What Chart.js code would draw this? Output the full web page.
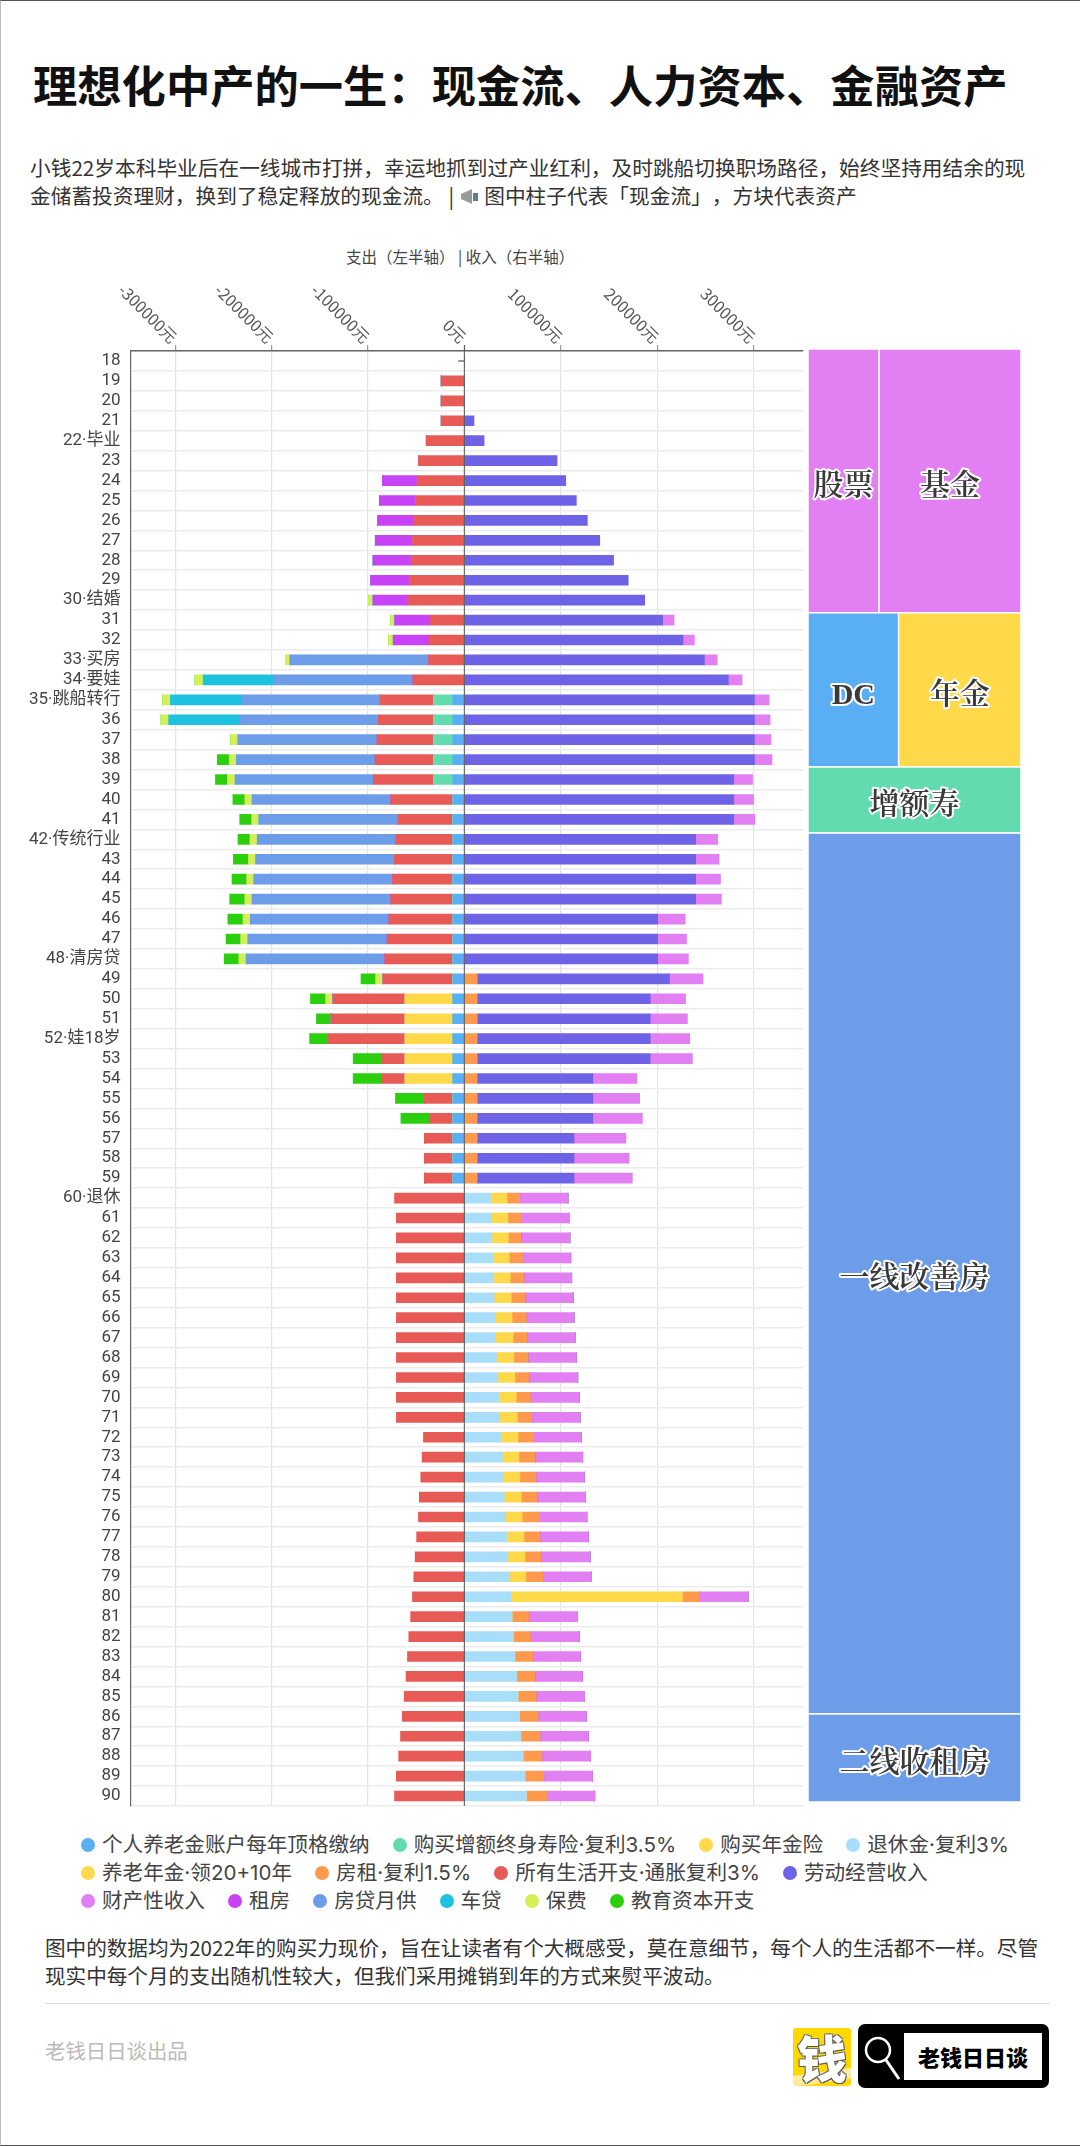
<!DOCTYPE html>
<html lang="zh">
<head>
<meta charset="utf-8">
<title>理想化中产的一生</title>
<script src="https://cdn.jsdelivr.net/npm/chart.js@4/dist/chart.umd.min.js"></script>
<style>
html, body { margin: 0; padding: 0; background: #fff; }
body { position: relative; width: 1080px; height: 2146px; overflow: hidden; font-family: "Noto Sans CJK SC", sans-serif; color: #333; text-spacing-trim: space-all; }
.frame { position: absolute; left: 0; top: 0; width: 1079px; height: 2144px; border-left: 1px solid #bbb; border-top: 1px solid #555; border-bottom: 1px solid #555; box-sizing: content-box; }
.abs { position: absolute; white-space: nowrap; }
#title { left: 33px; top: 52px; font-size: 44.3px; line-height: 64px; font-weight: 700; color: #111; }
#sub { left: 30px; top: 154px; font-size: 20.7px; line-height: 27.5px; color: #333; }
#sub svg { vertical-align: -3px; }
#axisTitle { left: 346px; top: 246px; font-size: 15.5px; line-height: 20px; color: #444; }
#pyramid { position: absolute; left: 0; top: 240px; }
#blocks { position: absolute; left: 808px; top: 349px; }
#legend { position: absolute; left: 81px; top: 1831px; width: 965px; display: flex; flex-wrap: wrap; column-gap: 23px; font-family: Inter, "Noto Sans CJK SC", sans-serif; font-size: 20.6px; line-height: 28px; color: #444; }
#legend span.item { display: flex; align-items: center; white-space: nowrap; }
#legend i { display: inline-block; width: 14px; height: 14px; border-radius: 50%; margin-right: 7px; }
#note { left: 45px; top: 1934px; font-size: 20.6px; line-height: 27.5px; color: #333; }
#rule { position: absolute; left: 45px; top: 2003px; width: 1005px; height: 1px; background: #ddd; }
#credit { left: 45px; top: 2035px; font-size: 20.4px; line-height: 30px; color: #bbb; }
#coin { position: absolute; left: 793px; top: 2028px; width: 58px; height: 58px; border-radius: 3px; background: linear-gradient(172deg, #ffd800 72%, #fff0a0 73%, #ffe89a 88%, #ffd800 90%); color: #fff; font-size: 50px; line-height: 56px; font-weight: 900; text-align: center; text-shadow: 1px 1px 0 #555, -1px 1px 0 #666, 1px -1px 0 #777, -1px -1px 0 #777; }
#badge { position: absolute; left: 858px; top: 2024px; width: 191px; height: 64px; border-radius: 7px; background: #000; }
#badge div { position: absolute; left: 46px; top: 9px; width: 138px; height: 47px; background: #fff; color: #000; font-size: 22px; line-height: 47px; font-weight: 900; text-align: center; }
#badge svg { position: absolute; left: 5px; top: 11px; }
</style>
</head>
<body>
<div class="frame"></div>
<div class="abs" id="title">理想化中产的一生：现金流、人力资本、金融资产</div>
<div class="abs" id="sub">小钱22岁本科毕业后在一线城市打拼，幸运地抓到过产业红利，及时跳船切换职场路径，始终坚持用结余的现<br>金储蓄投资理财，换到了稳定释放的现金流。 | <svg width="21" height="20" viewBox="0 0 21 20"><path d="M2 7 L13 2 L13 17 L2 12 Z" fill="#9a9a9a"/><rect x="14" y="6" width="5" height="8" fill="#5f7f95"/></svg> 图中柱子代表「现金流」，方块代表资产</div>
<div class="abs" id="axisTitle">支出（左半轴） | 收入（右半轴）</div>

<canvas id="pyramid" width="806" height="1572"></canvas>
<canvas id="blocks" width="213" height="1453"></canvas>

<div id="legend"></div>
<div class="abs" id="note">图中的数据均为2022年的购买力现价，旨在让读者有个大概感受，莫在意细节，每个人的生活都不一样。尽管<br>现实中每个月的支出随机性较大，但我们采用摊销到年的方式来熨平波动。</div>
<div id="rule"></div>
<div class="abs" id="credit">老钱日日谈出品</div>
<div id="coin">钱</div>
<div id="badge">
  <svg width="38" height="46" viewBox="0 0 38 46"><circle cx="15" cy="15" r="12" fill="none" stroke="#fff" stroke-width="2.5"/><line x1="23" y1="25" x2="36" y2="44" stroke="#fff" stroke-width="3"/></svg>
  <div>老钱日日谈</div>
</div>

<script>
var ages = ["18","19","20","21","22·毕业","23","24","25","26","27","28","29",
	"30·结婚","31","32","33·买房","34·要娃","35·跳船转行","36","37","38","39",
	"40","41","42·传统行业","43","44","45","46","47","48·清房贷","49",
	"50","51","52·娃18岁","53","54","55","56","57","58","59",
	"60·退休","61","62","63","64","65","66","67","68","69",
	"70","71","72","73","74","75","76","77","78","79",
	"80","81","82","83","84","85","86","87","88","89","90"];

var tickValues = [-300000,-200000,-100000,0,100000,200000,300000];

// each series below is read off the picture, one row per decade of age (18-29, 30-39 ... 80-90)
// spending is kept as positive numbers and flipped to the left half when building datasets
var pensionAccount = [0,0,0,0,0,0,0,0,0,0,0,0,
	0,0,0,0,0,12000,12000,12000,12000,12000,
	12000,12000,12000,12000,12000,12000,12000,12000,12000,12000,
	12000,12000,12000,12000,12000,12000,12000,12000,12000,12000,
	0,0,0,0,0,0,0,0,0,0,
	0,0,0,0,0,0,0,0,0,0,
	0,0,0,0,0,0,0,0,0,0,0];

var wholeLife = [0,0,0,0,0,0,0,0,0,0,0,0,
	0,0,0,0,0,19500,19500,19500,19500,19500,
	0,0,0,0,0,0,0,0,0,0,
	0,0,0,0,0,0,0,0,0,0,
	0,0,0,0,0,0,0,0,0,0,
	0,0,0,0,0,0,0,0,0,0,
	0,0,0,0,0,0,0,0,0,0,0];

var annuityPremium = [0,0,0,0,0,0,0,0,0,0,0,0,
	0,0,0,0,0,0,0,0,0,0,
	0,0,0,0,0,0,0,0,0,0,
	49500,49500,49500,49500,49500,0,0,0,0,0,
	0,0,0,0,0,0,0,0,0,0,
	0,0,0,0,0,0,0,0,0,0,
	0,0,0,0,0,0,0,0,0,0,0];

var retirementPay = [0,0,0,0,0,0,0,0,0,0,0,0,
	0,0,0,0,0,0,0,0,0,0,
	0,0,0,0,0,0,0,0,0,0,
	0,0,0,0,0,0,0,0,0,0,
	27100,27600,28600,29500,30500,31000,31900,32400,33300,34800,
	35700,36700,38100,39500,40500,41400,42900,43800,45200,46700,
	48100,49500,51000,52400,54300,55700,57100,58600,61000,62900,64300];

var annuityPayout = [0,0,0,0,0,0,0,0,0,0,0,0,
	0,0,0,0,0,0,0,0,0,0,
	0,0,0,0,0,0,0,0,0,0,
	0,0,0,0,0,0,0,0,0,0,
	17100,17600,17100,17100,17100,17600,17600,18100,18100,17600,
	18100,18100,17600,17100,17100,17600,17100,18100,17600,17100,
	178100,0,0,0,0,0,0,0,0,0,0];

var rentIncome = [0,0,0,0,0,0,0,0,0,0,0,0,
	0,0,0,0,0,0,0,0,0,0,
	0,0,0,0,0,0,0,0,0,13300,
	13300,13300,13300,13300,13300,13300,13300,13300,13300,13300,
	13300,13300,13300,13800,14300,14300,14800,14800,14800,14800,
	14800,15200,16200,16700,16700,16700,17100,16700,17100,17600,
	17600,17600,17600,18600,19000,19000,19500,20000,19500,19500,21000];

var living = [0,24000,24000,24000,39500,47600,49000,50500,52000,53800,55200,56700,
	59000,36000,36700,37100,53300,55700,57600,59000,61000,62900,
	64300,56700,59000,60500,62400,64300,66200,68100,70500,72400,
	74800,76700,79500,24300,24300,29500,24300,29500,29500,29500,
	72400,70500,70500,70500,70500,70500,70500,70500,70500,70500,
	70500,70500,42400,43800,45200,46700,47600,49500,51000,52400,
	53800,55700,57600,59000,60500,62400,64300,66200,68100,70500,72400];

var laborIncome = [0,0,0,10000,20500,96200,105200,116200,127600,140500,154800,170000,
	187100,205700,226700,249000,273800,301000,301000,301000,301000,279500,
	279500,279500,240000,240000,240000,240000,200500,200500,200500,199500,
	179500,179500,179500,179500,120000,120000,120000,100500,100500,100500,
	0,0,0,0,0,0,0,0,0,0,
	0,0,0,0,0,0,0,0,0,0,
	0,0,0,0,0,0,0,0,0,0,0];

var propertyIncome = [0,0,0,0,0,0,0,0,0,0,0,0,
	0,11900,11900,13300,14300,15200,16200,17100,18100,19500,
	20500,21900,22900,24300,25700,26700,28600,30000,31900,34800,
	36700,38600,41000,43800,45700,48600,51400,53800,57100,60500,
	50000,50000,50500,50000,49500,50000,49500,50000,50000,50500,
	50500,50000,49500,49500,50000,50000,50000,50000,50500,50500,
	50500,50500,50500,49500,49000,50000,50000,50000,50500,50500,50000];

var rentPaid = [0,0,0,0,0,0,36000,37600,38000,38600,39500,40500,
	35700,36200,37100,0,0,0,0,0,0,0,
	0,0,0,0,0,0,0,0,0,0,
	0,0,0,0,0,0,0,0,0,0,
	0,0,0,0,0,0,0,0,0,0,
	0,0,0,0,0,0,0,0,0,0,
	0,0,0,0,0,0,0,0,0,0,0];

var mortgage = [0,0,0,0,0,0,0,0,0,0,0,0,
	0,0,0,143800,144700,143400,144300,144300,143800,143300,
	143800,144300,143800,143800,143800,143800,143800,144300,143800,0,
	0,0,0,0,0,0,0,0,0,0,
	0,0,0,0,0,0,0,0,0,0,
	0,0,0,0,0,0,0,0,0,0,
	0,0,0,0,0,0,0,0,0,0,0];

var carLoan = [0,0,0,0,0,0,0,0,0,0,0,0,
	0,0,0,0,72900,74300,73300,0,0,0,
	0,0,0,0,0,0,0,0,0,0,
	0,0,0,0,0,0,0,0,0,0,
	0,0,0,0,0,0,0,0,0,0,
	0,0,0,0,0,0,0,0,0,0,
	0,0,0,0,0,0,0,0,0,0,0];

var insurance = [0,0,0,0,0,0,0,0,0,0,0,0,
	4800,4300,4800,4800,8600,8100,8100,7600,7600,8100,
	7600,7600,7600,7600,7600,7600,7600,7600,7600,7600,
	7600,0,0,0,0,0,0,0,0,0,
	0,0,0,0,0,0,0,0,0,0,
	0,0,0,0,0,0,0,0,0,0,
	0,0,0,0,0,0,0,0,0,0,0];

var education = [0,0,0,0,0,0,0,0,0,0,0,0,
	0,0,0,0,0,0,0,0,12400,12400,
	12400,12400,12400,15700,15200,15700,15700,15200,15200,15200,
	15700,15200,19500,29500,29500,30000,29500,0,0,0,
	0,0,0,0,0,0,0,0,0,0,
	0,0,0,0,0,0,0,0,0,0,
	0,0,0,0,0,0,0,0,0,0,0];

// the thin grey dash in the first row, only age 18 has it
var firstRowDash = [6000];

// asset blocks on the right, areas
var assetNames = ["股票","基金","DC","年金","增额寿","一线改善房","二线收租房"];
var assetValues = [18.8,37.5,14,18.9,14.1,188,18.8];
var assetColors = ["#e27ff2","#e27ff2","#5aaef4","#ffd94a","#62dbaf","#6d9ce9","#6d9ce9"];
var assetRows = [[0,1],[2,3],[4],[5],[6]];

function flip(list){
	return list.map(function(v){ return -v; });
}

// same order as the legend, the stack grows outward from zero in this order
var seriesList = [
	{label: "个人养老金账户每年顶格缴纳", color: "#5aaef4", data: flip(pensionAccount)},
	{label: "购买增额终身寿险·复利3.5%", color: "#62dbaf", data: flip(wholeLife)},
	{label: "购买年金险", color: "#ffd94a", data: flip(annuityPremium)},
	{label: "退休金·复利3%", color: "#a8defa", data: retirementPay},
	{label: "养老年金·领20+10年", color: "#ffd94a", data: annuityPayout},
	{label: "房租·复利1.5%", color: "#ff9a4d", data: rentIncome},
	{label: "所有生活开支·通胀复利3%", color: "#e85a56", data: flip(living)},
	{label: "劳动经营收入", color: "#6e63e6", data: laborIncome},
	{label: "财产性收入", color: "#e27ff2", data: propertyIncome},
	{label: "租房", color: "#c843f5", data: flip(rentPaid)},
	{label: "房贷月供", color: "#6d9ce9", data: flip(mortgage)},
	{label: "车贷", color: "#1dc3de", data: flip(carLoan)},
	{label: "保费", color: "#d4ef58", data: flip(insurance)},
	{label: "教育资本开支", color: "#2ccf0e", data: flip(education)}
];

var datasets = [];
for (var i in seriesList) {
	datasets.push({
		label: seriesList[i].label,
		data: seriesList[i].data,
		backgroundColor: seriesList[i].color,
		borderWidth: 0,
		barThickness: 10,
		stack: "flow"
	});
}
datasets.push({label: "", data: flip(firstRowDash), backgroundColor: "#999", borderWidth: 0, barThickness: 1.5, stack: "flow"});

var legendBox = document.getElementById("legend");
seriesList.forEach(function(s){
	var item = document.createElement("span");
	item.className = "item";
	var dot = document.createElement("i");
	dot.style.background = s.color;
	item.appendChild(dot);
	item.appendChild(document.createTextNode(s.label));
	legendBox.appendChild(item);
});

// top axis labels lean the other way than chart.js allows, and the centre line sits over the bars
var axisExtras = {
	id: "axisExtras",
	afterDatasetsDraw: function(chart){
		var ctx = chart.ctx;
		var x = chart.scales.x;
		var area = chart.chartArea;
		var zero = x.getPixelForValue(0);
		ctx.save();
		ctx.strokeStyle = "#555";
		ctx.lineWidth = 1;
		ctx.beginPath();
		ctx.moveTo(zero, area.top - 6);
		ctx.lineTo(zero, area.bottom);
		ctx.stroke();
		ctx.fillStyle = "#555";
		ctx.font = '16px "Noto Sans CJK SC"';
		ctx.textAlign = "right";
		ctx.textBaseline = "middle";
		tickValues.forEach(function(v){
			ctx.save();
			ctx.translate(x.getPixelForValue(v) - 1, area.top - 11);
			ctx.rotate(Math.PI / 4);
			ctx.fillText(v + "元", 0, 0);
			ctx.restore();
		});
		ctx.restore();
	}
};

var pyramid = new Chart(document.getElementById("pyramid"), {
	type: "bar",
	data: {labels: ages, datasets: datasets},
	options: {
		indexAxis: "y",
		responsive: false,
		animation: false,
		layout: {padding: {left: 0, right: 3, top: 0, bottom: 6}},
		plugins: {legend: {display: false}, tooltip: {enabled: false}},
		scales: {
			x: {
				position: "top",
				stacked: true,
				min: -346300,
				max: 351300,
				afterBuildTicks: function(scale){
					scale.ticks = tickValues.map(function(v){ return {value: v}; });
				},
				afterFit: function(scale){ scale.height = 111; },
				ticks: {display: false},
				grid: {color: "#e4e4e4", lineWidth: 1.2, tickLength: 6, tickColor: "#999"},
				border: {color: "#666", width: 1.5}
			},
			y: {
				stacked: true,
				afterFit: function(scale){
					scale.width = 130.5;
					scale.paddingTop = 0;
					scale.paddingBottom = 0;
				},
				ticks: {
					autoSkip: false,
					padding: 10,
					color: "#444",
					font: {family: 'Roboto, "Noto Sans CJK SC"', size: 17}
				},
				grid: {color: "#ececec", lineWidth: 1.5, drawTicks: false},
				border: {color: "#666", width: 1.2}
			}
		}
	},
	plugins: [axisExtras]
});

// blocks: each row is as tall as its share of the total, each block as wide as its share of the row
var assetTotal = assetValues.reduce(function(a, b){ return a + b; }, 0);
var blockData = [];
var rowStart = 0;
assetRows.forEach(function(row){
	var rowSum = row.reduce(function(a, k){ return a + assetValues[k]; }, 0);
	var left = 0;
	row.forEach(function(k){
		var share = assetValues[k] / rowSum;
		blockData[k] = [{x: left, y: rowStart}, {x: left + share, y: rowStart + rowSum}];
		left += share;
	});
	rowStart += rowSum;
});

var blockPainter = {
	id: "blockPainter",
	afterDatasetsDraw: function(chart){
		var ctx = chart.ctx;
		chart.data.datasets.forEach(function(ds, k){
			var pts = chart.getDatasetMeta(k).data;
			var x0 = pts[0].x, y0 = pts[0].y, x1 = pts[1].x, y1 = pts[1].y;
			ctx.save();
			ctx.fillStyle = ds.backgroundColor;
			ctx.fillRect(x0, y0, x1 - x0, y1 - y0);
			ctx.strokeStyle = "#fff";
			ctx.lineWidth = 1.5;
			ctx.strokeRect(x0, y0, x1 - x0, y1 - y0);
			ctx.font = '600 30px "Liberation Serif","Noto Serif CJK SC","Noto Sans CJK SC"';
			ctx.textAlign = "center";
			ctx.textBaseline = "middle";
			ctx.lineJoin = "round";
			ctx.lineWidth = 4;
			ctx.strokeStyle = "#fff";
			ctx.strokeText(ds.label, (x0 + x1) / 2, (y0 + y1) / 2 + 6);
			ctx.fillStyle = "#3a3a3a";
			ctx.fillText(ds.label, (x0 + x1) / 2, (y0 + y1) / 2 + 6);
			ctx.restore();
		});
	}
};

var blocks = new Chart(document.getElementById("blocks"), {
	type: "scatter",
	data: {
		datasets: assetNames.map(function(name, k){
			return {label: name, data: blockData[k], backgroundColor: assetColors[k], pointRadius: 0};
		})
	},
	options: {
		responsive: false,
		animation: false,
		plugins: {legend: {display: false}, tooltip: {enabled: false}},
		scales: {
			x: {type: "linear", min: 0, max: 1, display: false},
			y: {type: "linear", min: 0, max: assetTotal, reverse: true, display: false}
		}
	},
	plugins: [blockPainter]
});
</script>
</body>
</html>
